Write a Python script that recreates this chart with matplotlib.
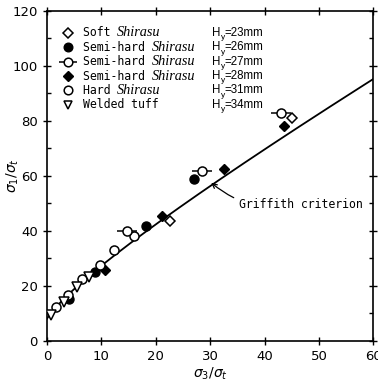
import numpy as np
import matplotlib
matplotlib.use("Agg")
import matplotlib.pyplot as plt

# ---- data ----
soft_x = [22.6, 45.0]
soft_y = [43.6, 81.0]
semi26_x = [4.0, 8.8, 18.3, 27.0]
semi26_y = [15.3, 25.0, 41.8, 58.9]
semi27_x = [14.8, 28.5, 43.1]
semi27_y = [40.0, 61.8, 82.9]
semi28_x = [10.6, 21.2, 32.5, 43.5]
semi28_y = [25.8, 45.5, 62.5, 78.2]
hard_x = [1.6, 3.9, 6.4, 9.7, 12.4, 16.0]
hard_y = [12.4, 16.7, 22.5, 27.6, 33.0, 38.2]
tuff_x = [0.8, 3.1, 5.5, 7.7]
tuff_y = [9.5, 14.2, 19.7, 23.3]

labels = ["Soft ", "Semi-hard ", "Semi-hard ", "Semi-hard ", "Hard ", "Welded tuff"]
italic_part = ["Shirasu", "Shirasu", "Shirasu", "Shirasu", "Shirasu", ""]
hy_vals = [23, 26, 27, 28, 31, 34]

x_ticks = [0, 10, 20, 30, 40, 50, 60]
y_ticks = [0, 20, 40, 60, 80, 100, 120]

# Griffith criterion: (s1 - s3)^2 = 8 (s1 + s3)
s3 = np.linspace(0, 60, 300)
s1 = s3 + 4 + 4 * np.sqrt(1 + s3)

fig = plt.figure(figsize=(3.78, 3.86), dpi=100)
ax = fig.add_axes([0.124, 0.117, 0.864, 0.855])

ax.plot(s3, s1, color="black", lw=1.3, zorder=2)

ms = 6.5
ax.plot(soft_x, soft_y, ls="none", marker="D", ms=ms - 1.3, mfc="white", mec="black", mew=1.1, zorder=3)
ax.plot(semi26_x, semi26_y, ls="none", marker="o", ms=ms, mfc="black", mec="black", zorder=3)
ax.plot(semi27_x, semi27_y, ls="none", marker="_", ms=14, mec="black", mew=1.1, zorder=3)
ax.plot(semi27_x, semi27_y, ls="none", marker="o", ms=ms, mfc="white", mec="black", mew=1.1, zorder=4)
ax.plot(semi28_x, semi28_y, ls="none", marker="D", ms=ms - 1.0, mfc="black", mec="black", zorder=3)
ax.plot(hard_x, hard_y, ls="none", marker="o", ms=ms, mfc="white", mec="black", mew=1.1, zorder=3)
ax.plot(tuff_x, tuff_y, ls="none", marker="v", ms=ms, mfc="white", mec="black", mew=1.1, zorder=3)

# legend (manual)
tr = ax.transAxes
mx, tx, hx = 0.064, 0.11, 0.506
y0, dy = 0.933, 0.0436
styles = [
    dict(marker="D", ms=ms - 1.5, mfc="white", mec="black", mew=1.1),
    dict(marker="o", ms=ms - 0.3, mfc="black", mec="black"),
    None,
    dict(marker="D", ms=ms - 1.2, mfc="black", mec="black"),
    dict(marker="o", ms=ms - 0.3, mfc="white", mec="black", mew=1.1),
    dict(marker="v", ms=ms - 0.3, mfc="white", mec="black", mew=1.1),
]
fs = 8.3
for i in range(6):
    yy = y0 - i * dy
    if styles[i] is None:
        ax.plot([mx], [yy], transform=tr, ls="none", marker="_", ms=13, mec="black", mew=1.1, clip_on=False)
        ax.plot([mx], [yy], transform=tr, ls="none", marker="o", ms=ms - 0.3, mfc="white", mec="black", mew=1.1, clip_on=False)
    else:
        ax.plot([mx], [yy], transform=tr, ls="none", clip_on=False, **styles[i])
    t = ax.text(tx, yy, labels[i], transform=tr, fontsize=fs, family="DejaVu Sans Mono", va="center", ha="left")
    if italic_part[i]:
        ax.annotate(italic_part[i], xycoords=t, xy=(1, 0.5), va="center", ha="left",
                    fontsize=10.3, family="Liberation Serif", style="italic")
    h = ax.text(hx, yy, "H", transform=tr, fontsize=fs, family="Liberation Sans", va="center", ha="left")
    sub = ax.annotate("y", xycoords=h, xy=(1, 0.5), xytext=(0, -3.5), textcoords="offset points",
                      va="center", ha="left", fontsize=6, family="Liberation Sans")
    ax.annotate("=%dmm" % hy_vals[i], xycoords=(sub, h), xy=(1, 0.5), va="center", ha="left",
                fontsize=fs, family="Liberation Sans")

ax.annotate("Griffith criterion", xy=(30.2, 57.5), xytext=(35.3, 49.5),
            fontsize=fs, family="DejaVu Sans Mono", va="center", ha="left",
            arrowprops=dict(arrowstyle="->", color="black", lw=0.9,
                            connectionstyle="arc3,rad=-0.25", shrinkA=2, shrinkB=0))

ax.set_xlim(0, 60)
ax.set_ylim(0, 120)
ax.set_xticks(x_ticks)
ax.set_yticks(y_ticks)
ax.set_yticks(np.arange(10, 120, 20), minor=True)
ax.tick_params(which="major", direction="inout", length=6, width=1, labelsize=9.5, top=True, right=True)
ax.tick_params(which="minor", direction="in", length=3, width=1, top=True, right=True)
for s in ax.spines.values():
    s.set_linewidth(1.2)

ax.set_xlabel(r"$\sigma_3/\sigma_t$", fontsize=10, labelpad=2)
ax.set_ylabel(r"$\sigma_1/\sigma_t$", fontsize=10)
ax.yaxis.set_label_coords(-0.08, 0.5)

fig.savefig("out.png", dpi=100)
